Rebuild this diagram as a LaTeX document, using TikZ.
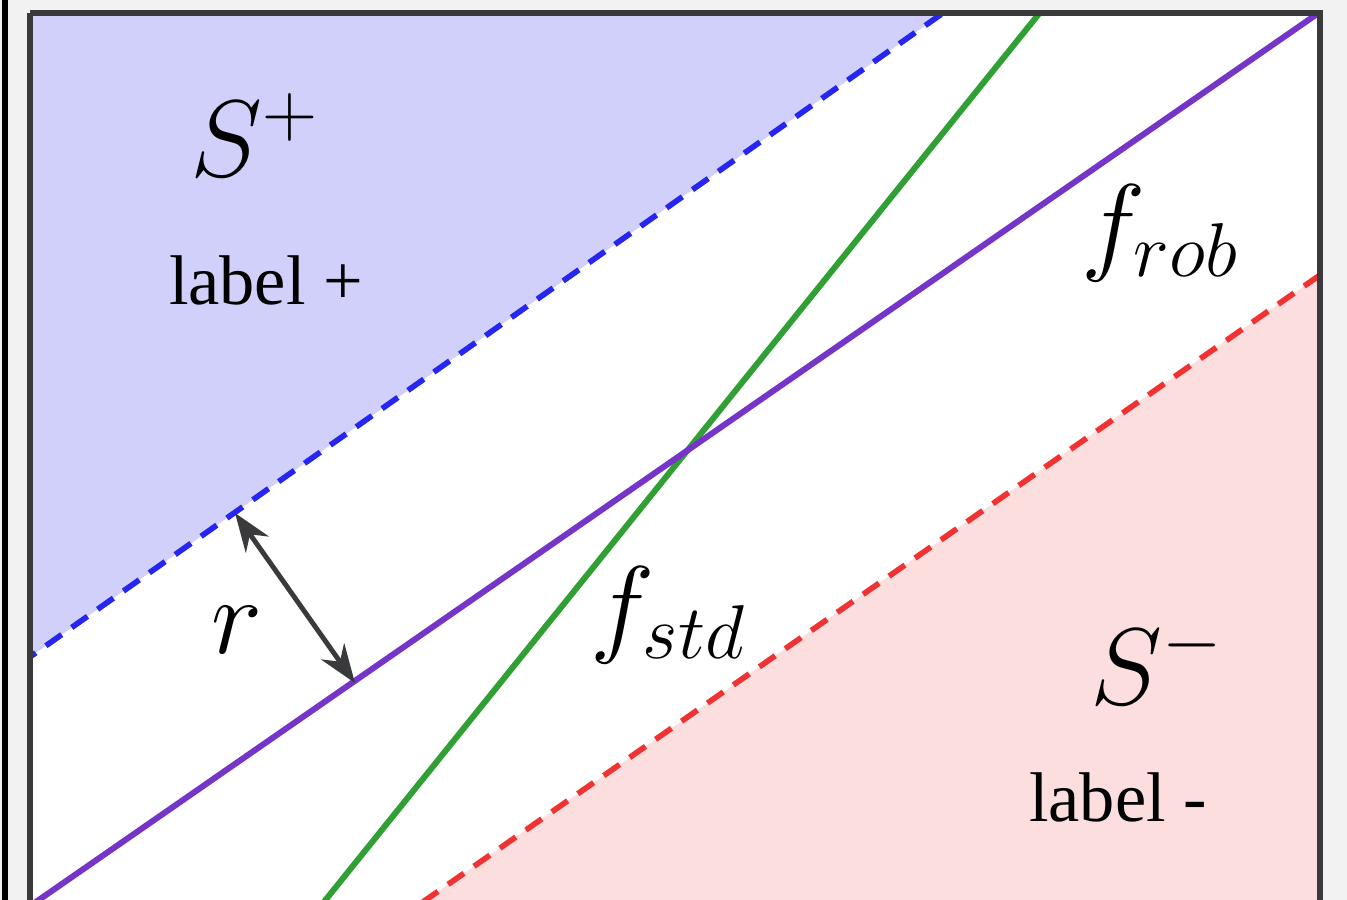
\RequirePackage{fix-cm}
\documentclass[tikz,border=0pt]{standalone}
\usepackage{fontspec}
\newfontfamily\labelfont{Liberation Serif}
\usetikzlibrary{
    arrows.meta,        % frecce moderne
    positioning         % posizionamento dei nodi
}

\definecolor{sfondo}{HTML}{F2F2F2}
\definecolor{cornice}{HTML}{3A3A3C}
\definecolor{zonapiu}{HTML}{D0D0FA}
\definecolor{zonameno}{HTML}{FDDEDE}
\definecolor{bordopiu}{HTML}{2626F0}
\definecolor{bordomeno}{HTML}{F03232}
\definecolor{viola}{HTML}{7435C8}
\definecolor{verde}{HTML}{30A035}

\tikzset{
    margine/.style={line width=1.6pt, dash pattern=on 5.5pt off 3.5pt},
    retta/.style={line width=1.7pt},
    etichetta/.style={font=\labelfont\fontsize{20}{24}\selectfont, inner sep=0pt},
    simbolo/.style={font=\fontsize{31}{36}\selectfont, inner sep=0pt}
}

\begin{document}
\begin{tikzpicture}[x=0.01cm, y=-0.01cm]

        \useasboundingbox (0,0) rectangle (1347,900);

        % Sfondo e bordo esterno
        \fill[sfondo] (0,0) rectangle (1347,900);
        \draw[black, line width=1.5pt] (5,0) -- (5,900);
        \fill[white] (30,13) rectangle (1320,900);

        % Punti delle rette
        \coordinate (piuA) at (20,664);
        \coordinate (piuB) at (943,13);
        \coordinate (robA) at (1320,12);
        \coordinate (robB) at (20,913);
        \coordinate (menoA) at (1320,275);
        \coordinate (menoB) at (400,918);
        \coordinate (stdA) at (1042,10);
        \coordinate (stdB) at (315,913);
        \coordinate (rtop) at (235,513);
        \coordinate (rbot) at (355,683);

        \begin{scope}
            \clip (30,13) rectangle (1320,900);

            % Regioni S+ e S-
            \fill[zonapiu] (30,13) -- (piuB) -- (piuA) -- (20,13) -- cycle;
            \fill[zonameno] (menoA) -- (1320,900) -- (menoB) -- cycle;

            % Margini tratteggiati
            \draw[margine, bordopiu] (piuA) -- (piuB);
            \draw[margine, bordomeno] (menoA) -- (menoB);

            % Classificatori
            \draw[retta, verde] (stdA) -- (stdB);
            \draw[retta, viola] (robA) -- (robB);
        \end{scope}

        % Cornice
        \draw[cornice, line width=1.7pt] (30,13) -- (1320,13) -- (1320,920);
        \draw[cornice, line width=1.7pt] (30,13) -- (30,920);

        % Freccia del raggio
        \draw[{Stealth[length=11pt, width=8pt]}-{Stealth[length=11pt, width=8pt]},
              line width=1.4pt, cornice] (rtop) -- (rbot);

        % Etichette
        \node[simbolo] (spiu) at (255,135) {$S^+$};
        \node[etichetta] (lpiu) at (266,280) {label +};
        \node[simbolo] (frob) at (1160,233) {$f_{rob}$};
        \node[simbolo] (fstd) at (668,615) {$f_{std}$};
        \node[simbolo] (raggio) at (237,630) {$r$};
        \node[simbolo] (smeno) at (1157,662) {$S^-$};
        \node[etichetta] (lmeno) at (1118,797) {label -};

    \end{tikzpicture}
\end{document}
